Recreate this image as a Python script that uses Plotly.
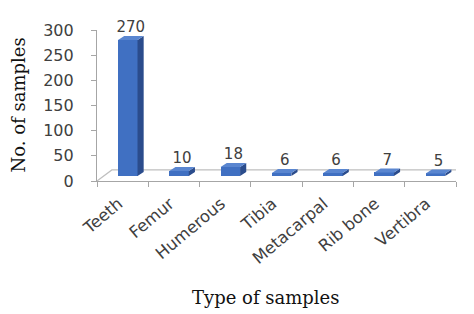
import plotly.graph_objects as go

categories = ["Teeth", "Femur", "Humerous", "Tibia", "Metacarpal", "Rib bone", "Vertibra"]
values = [270, 10, 18, 6, 6, 7, 5]
y_ticks = [0, 50, 100, 150, 200, 250, 300]

# 3D look parameters (in axis units)
W = 0.38      # bar width (category units)
OFF = -0.09   # bar offset from category centre
DX = 0.12     # depth, x
DY = 8        # depth, y (value units)

front = "#4070C2"
side = "#2B4C8C"
top = "#5A86D0"
tc = "#404040"
SANS = "DejaVu Sans"
SERIF = "DejaVu Serif"

idx = list(range(len(categories)))

side_x, side_y, top_x, top_y = [], [], [], []
for i, v in zip(idx, values):
    x0 = i + OFF
    x1 = x0 + W
    side_x += [x1, x1 + DX, x1 + DX, x1, x1, None]
    side_y += [0, DY, v + DY, v, 0, None]
    top_x += [x0, x0 + DX, x1 + DX, x1, x0, None]
    top_y += [v, v + DY, v + DY, v, v, None]

fig = go.Figure()
fig.add_trace(go.Bar(x=idx, y=values, xaxis="x", yaxis="y2", width=W, offset=OFF,
                     marker=dict(color=front, line=dict(width=0)), showlegend=False))
fig.add_trace(go.Scatter(x=side_x, y=side_y, xaxis="x", yaxis="y2", mode="lines", fill="toself",
                         fillcolor=side, line=dict(width=0, color=side), showlegend=False,
                         hoverinfo="skip"))
fig.add_trace(go.Scatter(x=top_x, y=top_y, xaxis="x", yaxis="y2", mode="lines", fill="toself",
                         fillcolor=top, line=dict(width=0, color=top), showlegend=False,
                         hoverinfo="skip"))
fig.add_trace(go.Scatter(x=[i + OFF + W / 2 + DX / 2 for i in idx], y=[v + DY for v in values],
                         xaxis="x", yaxis="y2", mode="text", text=[str(v) for v in values],
                         textposition="top center", textfont=dict(family=SANS, size=15, color=tc),
                         cliponaxis=False, showlegend=False, hoverinfo="skip"))
# category labels carrier (invisible)
fig.add_trace(go.Scatter(x=categories, y=values, xaxis="x2", yaxis="y2", mode="markers",
                         marker=dict(opacity=0), showlegend=False, hoverinfo="skip"))

# floor outline
fig.add_shape(type="path", xref="x", yref="y", path="M -0.5,0 L -0.21,22 L 6.79,22 L 6.5,0",
              line=dict(color="#BFBFBF", width=1.2), layer="below")

fig.add_annotation(text="Type of samples", xref="paper", yref="paper", x=0.47, y=-0.77,
                   showarrow=False, xanchor="center", yanchor="middle",
                   font=dict(family=SERIF, size=18, color="#111111"))
fig.add_annotation(text="No. of samples", xref="paper", yref="paper", x=-0.22, y=0.5,
                   textangle=-90, showarrow=False, xanchor="center", yanchor="middle",
                   font=dict(family=SERIF, size=18, color="#111111"))

fig.update_layout(
    width=474, height=314,
    margin=dict(l=97, r=18, t=30, b=133, autoexpand=False),
    paper_bgcolor="white", plot_bgcolor="white",
    xaxis=dict(type="linear", range=[-0.5, 6.5], tickvals=[i - 0.5 for i in range(8)],
               showticklabels=False, ticks="outside", ticklen=5, tickcolor="#A6A6A6",
               showline=True, linecolor="#A6A6A6", linewidth=1.2, showgrid=False, zeroline=False,
               automargin=False),
    xaxis2=dict(type="category", overlaying="x", side="bottom", range=[-0.42, 6.58],
                categoryarray=categories, tickangle=-40, ticks="", showgrid=False, showline=False,
                tickfont=dict(family=SANS, size=16.5, color=tc), ticklabelstandoff=9, automargin=False),
    yaxis=dict(range=[0, 300], tickvals=y_ticks, ticks="outside", ticklen=5, tickcolor="#A6A6A6",
               showline=True, linecolor="#A6A6A6", linewidth=1.2, showgrid=False, zeroline=False,
               tickfont=dict(family=SANS, size=16, color=tc), ticklabelstandoff=14, automargin=False),
    yaxis2=dict(overlaying="y", range=[-10, 290], visible=False),
    bargap=0,
)

fig.write_html("out.html", config={"displayModeBar": False},
               post_script="document.body.style.margin='0';document.body.style.overflow='hidden';")
